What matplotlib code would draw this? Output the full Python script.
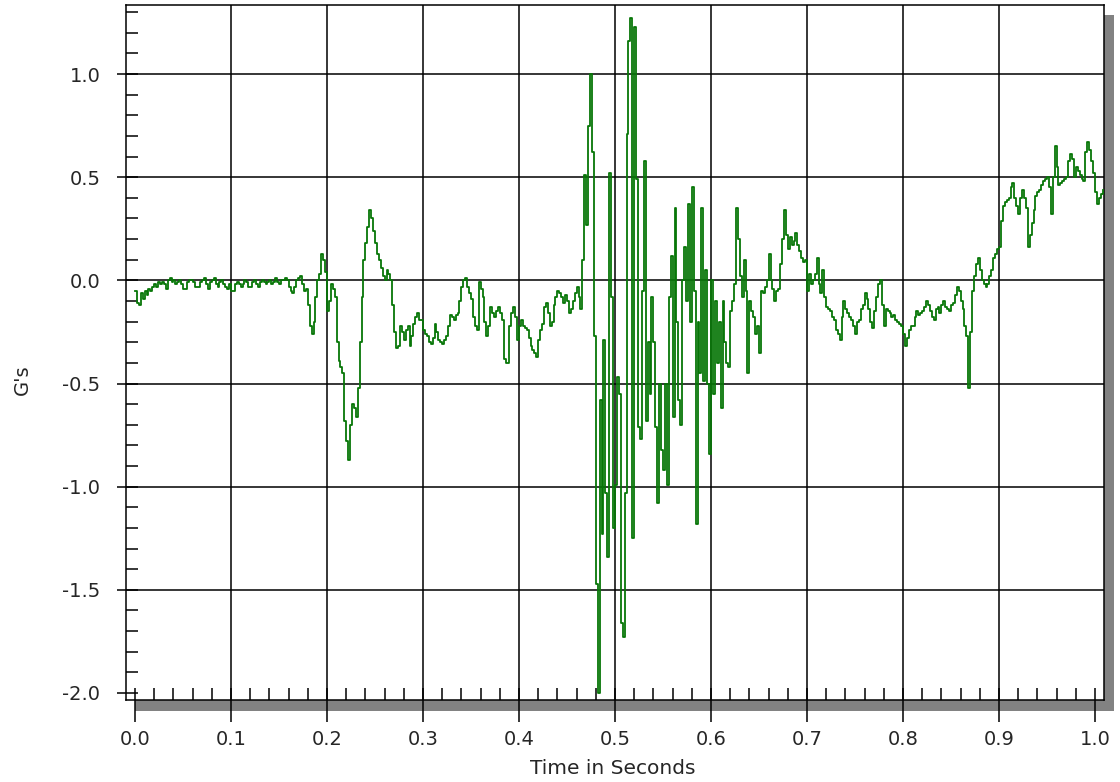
import numpy as np
import matplotlib
matplotlib.use("Agg")
import matplotlib.pyplot as plt
from matplotlib.patches import Rectangle
from matplotlib.ticker import MultipleLocator

# --- data: acceleration trace, one sample every 2 ms ---
dt = 0.002
g_values = [
    -0.05, -0.11, -0.12, -0.06, -0.09, -0.05, -0.07, -0.04, -0.05, -0.03,
    -0.02, -0.03, -0.01, -0.02, -0.01, -0.02, -0.04, 0.0, 0.01, -0.01,
    0.0, -0.02, -0.01, 0.0, -0.02, -0.04, -0.04, -0.01, 0.0, 0.0,
    -0.01, -0.03, -0.03, -0.03, -0.01, 0.0, 0.01, -0.02, -0.04, -0.01,
    0.0, 0.01, -0.02, -0.03, -0.01, 0.0, -0.02, -0.03, -0.04, -0.02,
    -0.05, -0.05, -0.02, -0.01, -0.02, -0.03, -0.02, 0.0, -0.01, -0.03,
    -0.03, -0.01, 0.0, -0.02, -0.03, -0.01, 0.0, -0.01, -0.02, -0.01,
    0.0, -0.02, -0.01, 0.01, -0.01, -0.02, 0.0, 0.0, 0.01, 0.0,
    -0.03, -0.05, -0.06, -0.03, 0.0, 0.01, 0.02, -0.02, -0.05, -0.04,
    -0.12, -0.22, -0.26, -0.20, -0.08, 0.0, 0.03, 0.13, 0.10, 0.04,
    -0.15, -0.10, -0.02, -0.04, -0.08, -0.30, -0.39, -0.42, -0.45, -0.68,
    -0.78, -0.87, -0.70, -0.60, -0.62, -0.66, -0.52, -0.30, -0.08, 0.10,
    0.18, 0.26, 0.34, 0.30, 0.24, 0.18, 0.13, 0.10, 0.06, 0.02,
    0.0, 0.05, 0.03, 0.0, -0.12, -0.25, -0.33, -0.32, -0.22, -0.25,
    -0.29, -0.24, -0.22, -0.32, -0.27, -0.21, -0.18, -0.16, -0.19, -0.19,
    -0.24, -0.26, -0.27, -0.30, -0.31, -0.28, -0.21, -0.25, -0.29, -0.30,
    -0.31, -0.29, -0.27, -0.22, -0.17, -0.18, -0.19, -0.17, -0.16, -0.10,
    -0.03, 0.0, 0.01, -0.03, -0.06, -0.09, -0.18, -0.22, -0.24, -0.01,
    -0.04, -0.08, -0.20, -0.27, -0.22, -0.13, -0.16, -0.18, -0.15, -0.13,
    -0.16, -0.19, -0.38, -0.40, -0.40, -0.22, -0.16, -0.13, -0.18, -0.29,
    -0.22, -0.19, -0.22, -0.23, -0.24, -0.28, -0.32, -0.34, -0.35, -0.37,
    -0.29, -0.24, -0.21, -0.13, -0.11, -0.16, -0.22, -0.20, -0.12, -0.08,
    -0.05, -0.06, -0.08, -0.11, -0.07, -0.10, -0.16, -0.14, -0.10, -0.06,
    -0.03, -0.08, -0.14, 0.10, 0.51, 0.27, 0.75, 1.00, 0.62, -0.27,
    -1.47, -2.0, -0.58, -1.23, -0.29, -1.03, -1.34, 0.52, -0.08, -1.20,
    -0.99, -0.47, -0.55, -1.66, -1.73, -1.03, 0.71, 1.16, 1.27, -1.25,
    1.23, 0.49, -0.71, -0.77, -0.05, 0.58, -0.68, -0.30, -0.55, -0.08,
    -0.30, -0.71, -1.08, -0.50, -0.82, -0.92, -0.50, -0.99, -0.08, 0.12,
    -0.66, 0.35, -0.20, -0.58, -0.70, 0.0, 0.16, -0.10, 0.37, -0.20,
    0.45, -0.05, -1.18, -0.20, -0.45, 0.35, -0.49, 0.05, -0.50, -0.84,
    0.0, -0.55, -0.10, -0.40, -0.20, -0.62, -0.10, -0.30, -0.40, -0.42,
    -0.15, -0.10, -0.02, 0.35, 0.20, 0.02, -0.08, 0.10, -0.05, -0.45,
    -0.10, -0.15, -0.18, -0.26, -0.22, -0.35, -0.05, -0.06, -0.03, 0.0,
    0.13, 0.0, -0.04, -0.10, -0.05, -0.04, 0.08, 0.20, 0.34, 0.22,
    0.15, 0.21, 0.17, 0.19, 0.23, 0.17, 0.14, 0.11, 0.09, 0.10,
    -0.05, 0.03, -0.02, 0.0, 0.03, 0.11, -0.02, -0.06, 0.05, -0.08,
    -0.13, -0.14, -0.15, -0.18, -0.19, -0.24, -0.26, -0.29, -0.18, -0.10,
    -0.14, -0.16, -0.18, -0.19, -0.22, -0.26, -0.20, -0.19, -0.14, -0.12,
    -0.06, -0.09, -0.14, -0.20, -0.23, -0.15, -0.08, -0.02, 0.0, -0.12,
    -0.22, -0.14, -0.15, -0.16, -0.18, -0.17, -0.19, -0.20, -0.21, -0.22,
    -0.26, -0.32, -0.28, -0.24, -0.22, -0.22, -0.18, -0.15, -0.17, -0.16,
    -0.15, -0.13, -0.10, -0.12, -0.15, -0.18, -0.19, -0.14, -0.13, -0.16,
    -0.12, -0.10, -0.13, -0.14, -0.15, -0.12, -0.11, -0.07, -0.03, -0.05,
    -0.10, -0.14, -0.22, -0.27, -0.52, -0.25, -0.05, 0.02, 0.08, 0.11,
    0.05, 0.0, -0.02, -0.03, -0.02, 0.02, 0.05, 0.11, 0.13, 0.15,
    0.16, 0.29, 0.36, 0.38, 0.39, 0.40, 0.45, 0.47, 0.40, 0.36,
    0.32, 0.40, 0.44, 0.40, 0.35, 0.16, 0.22, 0.28, 0.34, 0.41,
    0.43, 0.44, 0.46, 0.48, 0.49, 0.50, 0.45, 0.32, 0.50, 0.65,
    0.55, 0.46, 0.47, 0.48, 0.49, 0.50, 0.58, 0.61, 0.59, 0.50,
    0.55, 0.53, 0.51, 0.49, 0.48, 0.62, 0.67, 0.63, 0.58, 0.52,
    0.43, 0.37, 0.40, 0.42, 0.44,
]
time_s = np.arange(len(g_values)) * dt

x_ticks = [0.0, 0.1, 0.2, 0.3, 0.4, 0.5, 0.6, 0.7, 0.8, 0.9, 1.0]
y_ticks = [-2.0, -1.5, -1.0, -0.5, 0.0, 0.5, 1.0]
x_label = "Time in Seconds"
y_label = "G's"

# --- figure, laid out in pixels ---
W, H = 1120, 782
plt.rcParams['font.family'] = 'DejaVu Sans'
plt.rcParams['axes.unicode_minus'] = False
fig = plt.figure(figsize=(W / 100, H / 100), dpi=100)
fig.patch.set_facecolor('white')

left, right, top, bottom = 126, 1104, 5, 700
ax = fig.add_axes([left / W, 1 - bottom / H, (right - left) / W, (bottom - top) / H])

# drop shadow under / right of the plot frame
shade = '#828282'
fig.add_artist(Rectangle((135 / W, 1 - 711 / H), (1114 - 135) / W, 11 / H,
                         transform=fig.transFigure, color=shade, lw=0, zorder=-1))
fig.add_artist(Rectangle((1104 / W, 1 - 711 / H), 10 / W, (711 - 15) / H,
                         transform=fig.transFigure, color=shade, lw=0, zorder=-1))

ax.plot(time_s, g_values, color='#077607', lw=1.3, drawstyle='steps-post', zorder=3)

ax.set_xlim(-0.0094, 1.0094)
ax.set_ylim(-2.034, 1.3345)

# grid only on interior ticks
for xv in x_ticks[1:-1]:
    ax.axvline(xv, color='black', lw=1.1, zorder=2)
for yv in y_ticks[1:]:
    ax.axhline(yv, color='black', lw=1.1, zorder=2)

ax.set_xticks(x_ticks)
ax.set_yticks(y_ticks)
ax.set_xticklabels([f"{v:.1f}" for v in x_ticks])
ax.set_yticklabels([f"{v:.1f}" for v in y_ticks])
ax.xaxis.set_minor_locator(MultipleLocator(0.02))
ax.yaxis.set_minor_locator(MultipleLocator(0.1))
ax.xaxis.remove_overlapping_locs = False
ax.yaxis.remove_overlapping_locs = False

txt = '#262626'
ax.tick_params(axis='x', which='major', direction='out', length=15.8, width=1.1,
               pad=6, labelsize=14, labelcolor=txt)
ax.tick_params(axis='y', which='major', direction='out', length=6.5, width=1.1,
               pad=12, labelsize=14, labelcolor=txt)
ax.tick_params(which='minor', direction='in', length=8.6, width=1.1)

for s in ax.spines.values():
    s.set_linewidth(1.1)
    s.set_color('black')

fig.text(613 / W, 1 - 768 / H, x_label, ha='center', va='center', fontsize=14.5, color=txt)
fig.text(22 / W, 1 - 380 / H, y_label, ha='center', va='center', rotation=90,
         fontsize=14, color=txt)

fig.savefig('out.png', dpi=100)
